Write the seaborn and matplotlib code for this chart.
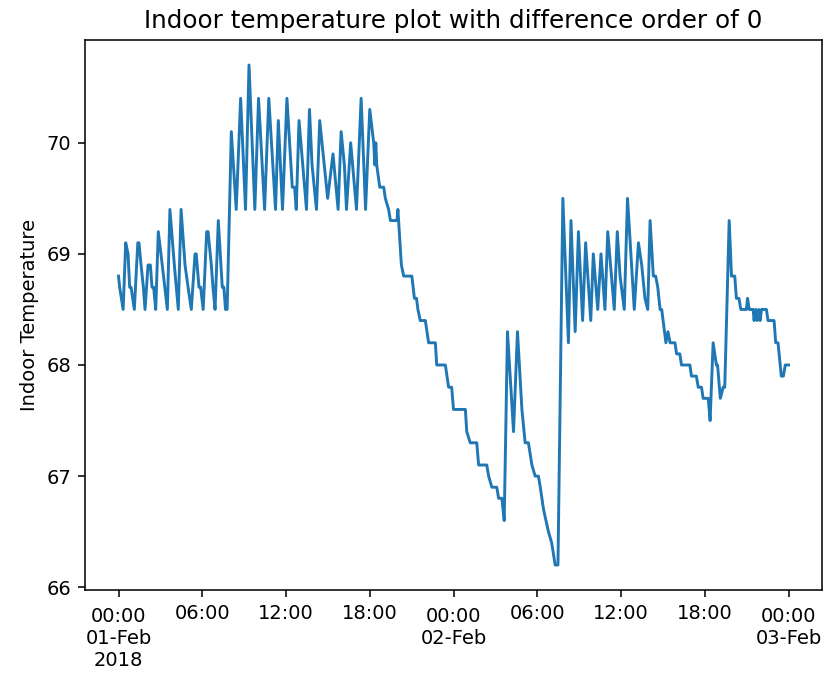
import matplotlib
matplotlib.use("Agg")
import matplotlib.pyplot as plt
import seaborn as sns
import pandas as pd

# Readings: minutes after 2018-02-01 00:00 and indoor temperature
seg1_min = [0, 5, 20, 31, 41, 48, 54, 68, 83, 88, 97, 107, 114, 127, 137, 144, 151, 160,
            171, 188, 210, 221, 240, 257, 269, 286, 299, 313, 329, 334, 346, 353, 364,
            379, 385, 399, 406, 415, 429, 446, 453, 460, 467]
seg1_temp = [68.8, 68.7, 68.5, 69.1, 69.0, 68.7, 68.7, 68.5, 69.1, 69.1, 68.9, 68.7, 68.5,
             68.9, 68.9, 68.7, 68.7, 68.5, 69.2, 68.9, 68.5, 69.4, 68.9, 68.5, 69.4, 68.9,
             68.7, 68.5, 69.0, 69.0, 68.7, 68.7, 68.5, 69.2, 69.2, 68.9, 68.7, 68.5, 69.3,
             68.7, 68.7, 68.5, 68.5]

seg2_min = [485, 506, 525, 546, 561, 586, 602, 628, 646, 675, 687, 705, 724, 747, 757, 764,
            776, 808, 821, 832, 851, 865, 899, 922, 944, 957, 971, 980, 998, 1023, 1043,
            1062, 1080, 1097, 1102, 1106, 1110, 1123, 1140, 1147, 1161, 1169, 1197, 1201]
seg2_temp = [70.1, 69.4, 70.4, 69.4, 70.7, 69.4, 70.4, 69.4, 70.4, 69.4, 70.2, 69.4, 70.4,
             69.6, 69.6, 69.4, 70.2, 69.4, 70.3, 69.8, 69.4, 70.2, 69.5, 69.9, 69.4, 70.1,
             69.8, 69.4, 70.0, 69.4, 70.4, 69.4, 70.3, 70.0, 69.8, 70.0, 69.8, 69.6, 69.6,
             69.5, 69.4, 69.3, 69.3, 69.4]

seg3_min = [1216, 1226, 1261, 1272, 1281, 1287, 1297, 1319, 1326, 1333, 1362, 1368, 1405,
            1412, 1419, 1432, 1440, 1491, 1497, 1512, 1540, 1548, 1583, 1591, 1605, 1626,
            1634, 1648, 1658, 1672, 1698, 1715, 1734, 1748, 1762, 1777, 1791, 1805, 1813,
            1827, 1848, 1862, 1877, 1889]
seg3_temp = [68.9, 68.8, 68.8, 68.6, 68.6, 68.5, 68.4, 68.4, 68.3, 68.2, 68.2, 68.0, 68.0,
             67.9, 67.8, 67.8, 67.6, 67.6, 67.4, 67.3, 67.3, 67.1, 67.1, 67.0, 66.9, 66.9,
             66.8, 66.8, 66.6, 68.3, 67.4, 68.3, 67.6, 67.3, 67.3, 67.1, 67.0, 67.0, 66.9,
             66.7, 66.5, 66.4, 66.2, 66.2]

seg4_min = [1910, 1934, 1945, 1963, 1977, 1995, 2008, 2030, 2041, 2060, 2074, 2091, 2103,
            2131, 2144, 2156, 2174, 2188, 2217, 2235, 2249, 2263, 2275, 2285, 2299, 2309,
            2318, 2328, 2335, 2347, 2353, 2362, 2371, 2392, 2399, 2413, 2420, 2456, 2463,
            2484, 2492, 2506, 2513, 2535, 2543, 2556, 2570, 2575, 2587, 2599, 2606, 2625,
            2635, 2649, 2656, 2667, 2675, 2699, 2704, 2711, 2728, 2732, 2739, 2745, 2752,
            2758, 2764, 2785, 2792, 2818, 2825, 2835, 2849, 2858, 2866, 2880]
seg4_temp = [69.5, 68.2, 69.3, 68.3, 69.2, 68.4, 69.1, 68.4, 69.0, 68.5, 69.0, 68.5, 69.2,
             68.5, 69.2, 68.8, 68.5, 69.5, 68.5, 69.1, 68.9, 68.6, 68.5, 69.3, 68.8, 68.8,
             68.7, 68.5, 68.5, 68.3, 68.2, 68.3, 68.2, 68.2, 68.1, 68.1, 68.0, 68.0, 67.9,
             67.9, 67.8, 67.8, 67.7, 67.7, 67.5, 68.2, 68.0, 68.0, 67.7, 67.8, 67.8, 69.3,
             68.8, 68.8, 68.6, 68.6, 68.5, 68.5, 68.6, 68.5, 68.5, 68.4, 68.5, 68.4, 68.5,
             68.4, 68.5, 68.5, 68.4, 68.4, 68.2, 68.2, 67.9, 67.9, 68.0, 68.0]

major_tick_times = ["2018-02-01 00:00", "2018-02-02 00:00", "2018-02-03 00:00"]
major_tick_labels = ["00:00\n01-Feb\n2018", "00:00\n02-Feb", "00:00\n03-Feb"]
minor_tick_times = ["2018-02-01 06:00", "2018-02-01 12:00", "2018-02-01 18:00",
                    "2018-02-02 06:00", "2018-02-02 12:00", "2018-02-02 18:00"]
minor_tick_labels = ["06:00", "12:00", "18:00", "06:00", "12:00", "18:00"]
y_ticks = [66, 67, 68, 69, 70]

title = "Indoor temperature plot with difference order of 0"
y_label = "Indoor Temperature"

start = pd.Timestamp("2018-02-01 00:00")
minutes = seg1_min + seg2_min + seg3_min + seg4_min
temps = seg1_temp + seg2_temp + seg3_temp + seg4_temp
df = pd.DataFrame({"time": start + pd.to_timedelta(minutes, unit="m"),
                   "temp": temps})

fig = plt.figure(figsize=(828 / 140, 677 / 140), dpi=140)
ax = fig.add_axes([85 / 828, 87 / 677, 737 / 828, 550 / 677])
sns.lineplot(data=df, x="time", y="temp", ax=ax, color="#1f77b4", linewidth=1.5)

ax.set_xticks([pd.Timestamp(t).to_pydatetime() for t in major_tick_times],
              labels=major_tick_labels)
ax.set_xticks([pd.Timestamp(t).to_pydatetime() for t in minor_tick_times],
              labels=minor_tick_labels, minor=True)
ax.set_yticks(y_ticks)
ax.tick_params(axis="x", which="major", length=3.5, width=0.8, pad=5, labelsize=10)
ax.tick_params(axis="x", which="minor", length=3.5, width=0.8, pad=3.5, labelsize=10)
ax.tick_params(axis="y", length=3.5, width=0.8, labelsize=10)

ax.set_xlabel("")
ax.set_ylabel(y_label, fontsize=10)
ax.set_title(title, fontsize=12.7)

fig.savefig("out.png", dpi=140)
